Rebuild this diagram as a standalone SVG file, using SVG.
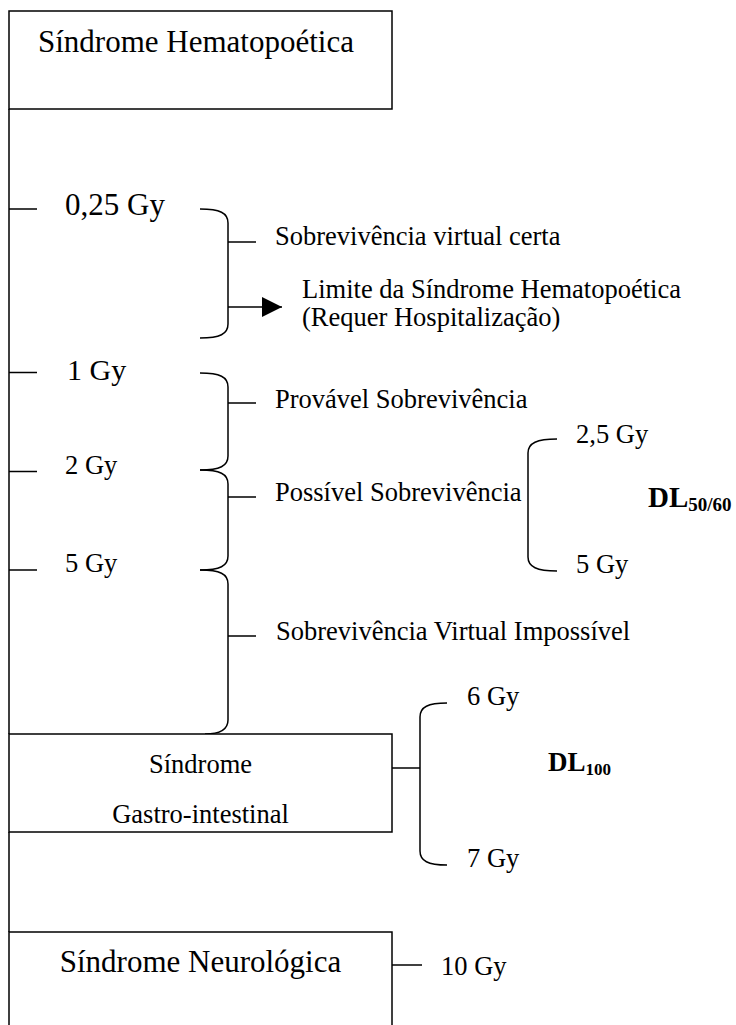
<svg xmlns="http://www.w3.org/2000/svg" width="736" height="1025" viewBox="0 0 736 1025">
<style>
.ln{stroke:#000;stroke-width:1.5;fill:none}
.bx{stroke:#000;stroke-width:1.5;fill:#fff}
text{font-family:"Liberation Serif","Times New Roman",serif;fill:#000}
.big{font-size:31px}
.sm{font-size:26.5px}
.dl{font-size:27px;font-weight:bold}
.sub{font-size:17px;font-weight:bold}
.c{text-anchor:middle}
</style>
<defs>
<marker id="ah" viewBox="0 0 10 10" refX="10" refY="5" markerWidth="20" markerHeight="20" markerUnits="userSpaceOnUse" orient="auto">
<path d="M0,0 L10,5 L0,10 Z" fill="#000"/>
</marker>
</defs>
<g id="connectors">
<path class="ln" d="M9,109 V734 M9,832 V932"/>
<path class="ln" d="M9,209 H37 M9,372.5 H37 M9,471.5 H37 M9,570 H37"/>
<path class="ln" d="M200,209 C220,209 228,213 228,223 L228,324 C228,334 220,338 200,338"/>
<path class="ln" d="M228,242 H256"/>
<path class="ln" d="M228,307 H282" marker-end="url(#ah)"/>
<path class="ln" d="M200,373 C220,373 228,377 228,387 L228,456 C228,466 220,470 200,470"/>
<path class="ln" d="M200,470 C220,470 228,474 228,484 L228,556 C228,566 220,570 200,570"/>
<path class="ln" d="M200,570 C220,570 228,574 228,584 L228,720 C228,730 220,734 205,734"/>
<path class="ln" d="M228,403 H256 M228,497 H256 M228,636 H256"/>
<path class="ln" d="M557,439 C537,439 528,443 528,453 L528,557 C528,567 537,571 557,571"/>
<path class="ln" d="M447,703 C428,703 420,707 420,717 L420,851 C420,861 428,865 447,865"/>
<path class="ln" d="M392,768 H420"/>
<path class="ln" d="M392,965 H422"/>
</g>
<g id="node-hemato">
<rect class="bx" x="9" y="11" width="383" height="98"/>
<text class="big" x="38" y="52">Síndrome Hematopoética</text>
</g>
<g id="node-gastro">
<rect class="bx" x="9" y="734" width="383" height="98"/>
<text class="sm c" x="200.5" y="773">Síndrome</text>
<text class="sm c" x="200.5" y="823">Gastro-intestinal</text>
</g>
<g id="node-neuro">
<rect class="bx" x="9" y="932" width="383" height="110"/>
<text class="big c" x="200.5" y="972">Síndrome Neurológica</text>
</g>
<g id="labels">
<text class="big" x="65" y="215">0,25 Gy</text>
<text style="font-size:30px" x="67" y="380">1 Gy</text>
<text class="sm" x="65" y="474">2 Gy</text>
<text class="sm" x="65" y="572">5 Gy</text>
<text class="sm" x="275" y="245">Sobrevivência virtual certa</text>
<text class="sm" x="302" y="298">Limite da Síndrome Hematopoética</text>
<text class="sm" x="302" y="326">(Requer Hospitalização)</text>
<text class="sm" x="275" y="408">Provável Sobrevivência</text>
<text class="sm" x="275" y="501">Possível Sobrevivência</text>
<text class="sm" x="276" y="640">Sobrevivência Virtual Impossível</text>
<text class="sm" x="576" y="443">2,5 Gy</text>
<text class="sm" x="576" y="573">5 Gy</text>
<text class="dl" style="font-size:29px" x="648" y="507">DL<tspan class="sub" style="font-size:19px" dy="4">50/60</tspan></text>
<text class="sm" x="467" y="705">6 Gy</text>
<text class="sm" x="467" y="867">7 Gy</text>
<text class="dl" x="548" y="771">DL<tspan class="sub" dy="4">100</tspan></text>
<text class="sm" x="441" y="975">10 Gy</text>
</g>
</svg>
